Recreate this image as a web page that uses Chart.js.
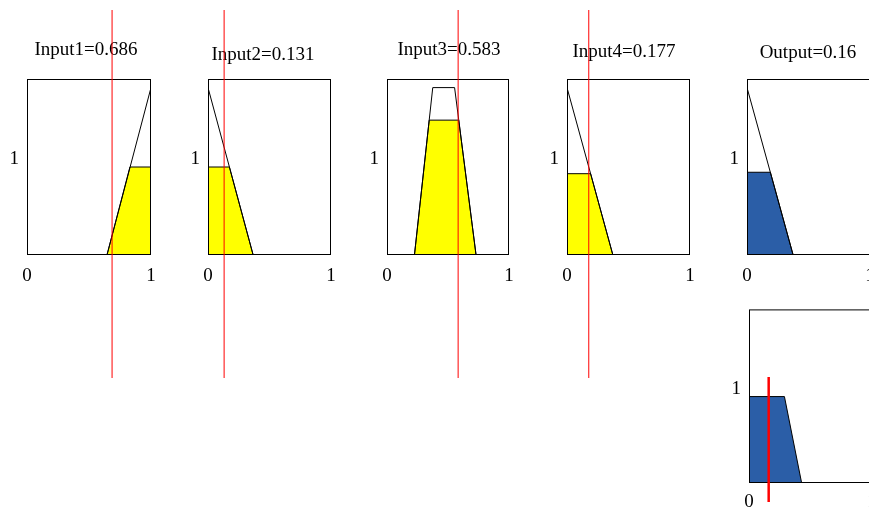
<!DOCTYPE html>
<html>
<head>
<meta charset="utf-8">
<script src="https://cdn.jsdelivr.net/npm/chart.js@4.4.1/dist/chart.umd.min.js"></script>
<style>
  html, body { margin: 0; padding: 0; background: #fff; overflow: hidden; }
  #fig { position: relative; width: 869px; height: 509px; overflow: hidden; background: #fff; }
  .panel { position: absolute; }
</style>
</head>
<body>
<div id="fig"></div>
<script>
// ---- rule inputs and crisp output ----
const inputNames = ['Input1', 'Input2', 'Input3', 'Input4'];
const inputValues = [0.686, 0.131, 0.583, 0.177];
const outputName = 'Output';
const outputValue = 0.16;

// ---- axis ticks ----
const xTickValues = [0, 1];
const yTickValues = [1];
const yMax = 1.84;

// ---- membership functions (outline) ----
const mf1X = [0, 0.645, 1];                       const mf1Y = [0, 0, 1.75];
const mf2X = [0, 0.367, 1];                       const mf2Y = [1.75, 0, 0];
const mf3X = [0, 0.225, 0.375, 0.554, 0.73, 1];   const mf3Y = [0, 0, 1.75, 1.75, 0, 0];
const mf4X = [0, 0.373, 1];                       const mf4Y = [1.75, 0, 0];
const mfOutX = [0, 0.375, 1];                     const mfOutY = [1.75, 0, 0];

// ---- fired (clipped) regions ----
const fire1X = [0.645, 0.83, 1, 1];         const fire1Y = [0, 0.92, 0.92, 0];
const fire2X = [0, 0, 0.174, 0.367];        const fire2Y = [0, 0.92, 0.92, 0];
const fire3X = [0.225, 0.346, 0.588, 0.73]; const fire3Y = [0, 1.41, 1.41, 0];
const fire4X = [0, 0, 0.192, 0.373];        const fire4Y = [0, 0.85, 0.85, 0];
const fireOutX = [0, 0, 0.19, 0.375];       const fireOutY = [0, 0.865, 0.865, 0];

// ---- aggregated output ----
const aggX = [0, 0, 0.288, 0.428];          const aggY = [0, 0.916, 0.916, 0];

const pts = (xs, ys) => xs.map((x, i) => ({ x, y: ys[i] }));

const SERIF = "'Liberation Serif', 'Times New Roman', serif";
const FONT_SIZE = 19;
const Y_AXIS_W = 30, X_AXIS_H = 30, PAD_RIGHT = 24;
const YELLOW = '#ffff00', BLUE = '#2b5ea7', RED = '#ff0000';

// frame around the plot area
const framePlugin = {
  id: 'frame',
  afterDatasetsDraw(chart) {
    const a = chart.chartArea, ctx = chart.ctx;
    ctx.save();
    ctx.strokeStyle = '#000';
    ctx.lineWidth = 1;
    ctx.strokeRect(a.left + 0.5, a.top + 0.5, a.right - a.left - 1, a.bottom - a.top - 1);
    ctx.restore();
  }
};

// panel heading, centred at a given page position
function headingPlugin(text, cx, cy) {
  return {
    id: 'heading',
    afterDraw(chart) {
      if (!text) return;
      const ctx = chart.ctx;
      ctx.save();
      ctx.fillStyle = '#000';
      ctx.font = FONT_SIZE + 'px ' + SERIF;
      ctx.textAlign = 'center';
      ctx.textBaseline = 'middle';
      ctx.fillText(text, cx, cy);
      ctx.restore();
    }
  };
}

// vertical red line at the crisp value; may run past the plot area
function markerPlugin(m) {
  return {
    id: 'marker',
    afterDraw(chart) {
      if (!m) return;
      const ctx = chart.ctx;
      const x = chart.scales.x.getPixelForValue(m.value);
      ctx.save();
      ctx.strokeStyle = m.color;
      ctx.lineWidth = m.width;
      ctx.beginPath();
      ctx.moveTo(x, m.top);
      ctx.lineTo(x, m.bottom);
      ctx.stroke();
      ctx.restore();
    }
  };
}

function makePanel(p) {
  const fig = document.getElementById('fig');
  const div = document.createElement('div');
  div.className = 'panel';
  const w = (p.R - p.L) + Y_AXIS_W + PAD_RIGHT;
  const h = p.canvasH;
  const left = p.L - Y_AXIS_W;
  div.style.left = left + 'px';
  div.style.top = p.canvasTop + 'px';
  div.style.width = w + 'px';
  div.style.height = h + 'px';
  const cv = document.createElement('canvas');
  cv.width = w; cv.height = h;
  cv.style.width = w + 'px'; cv.style.height = h + 'px';
  div.appendChild(cv);
  fig.appendChild(div);

  const tickFont = { family: SERIF, size: FONT_SIZE };
  const marker = p.marker ? Object.assign({}, p.marker, {
    top: p.marker.top - p.canvasTop, bottom: p.marker.bottom - p.canvasTop }) : null;

  new Chart(cv, {
    type: 'scatter',
    data: { datasets: p.datasets },
    options: {
      responsive: false,
      animation: false,
      devicePixelRatio: 1,
      events: [],
      layout: {
        padding: {
          left: 0,
          right: PAD_RIGHT,
          top: p.T - p.canvasTop,
          bottom: p.canvasTop + h - p.B - X_AXIS_H
        }
      },
      plugins: {
        legend: { display: false },
        tooltip: { enabled: false },
        title: { display: false }
      },
      scales: {
        x: {
          type: 'linear', min: 0, max: 1,
          grid: { display: false, drawTicks: false },
          border: { display: false },
          afterBuildTicks: s => { s.ticks = xTickValues.map(v => ({ value: v })); },
          afterFit: s => { s.height = X_AXIS_H; },
          ticks: { color: '#000', font: tickFont, padding: p.tickPad, maxRotation: 0, autoSkip: false,
                   callback: v => String(v) }
        },
        y: {
          type: 'linear', min: 0, max: yMax,
          grid: { display: false, drawTicks: false },
          border: { display: false },
          afterBuildTicks: s => { s.ticks = yTickValues.map(v => ({ value: v })); },
          afterFit: s => { s.width = Y_AXIS_W; },
          ticks: { color: '#000', font: tickFont, padding: 8, autoSkip: false,
                   callback: v => String(v) }
        }
      }
    },
    plugins: [
      framePlugin,
      headingPlugin(p.title, p.titleX - left, p.titleY - p.canvasTop),
      markerPlugin(marker)
    ]
  });
}

function outline(xs, ys) {
  return { data: pts(xs, ys), showLine: true, fill: false, borderColor: '#000',
           borderWidth: 1, pointRadius: 0, tension: 0, order: 0 };
}
function region(xs, ys, color) {
  return { data: pts(xs, ys), showLine: true, fill: 'origin', backgroundColor: color,
           borderColor: '#000', borderWidth: 1, pointRadius: 0, tension: 0, order: 1 };
}

const mfX = [mf1X, mf2X, mf3X, mf4X];
const mfY = [mf1Y, mf2Y, mf3Y, mf4Y];
const fireX = [fire1X, fire2X, fire3X, fire4X];
const fireY = [fire1Y, fire2Y, fire3Y, fire4Y];

// plot frames on the page and heading centres
const inputFrames = [
  { L: 27,  R: 151, titleX: 86,  titleY: 50 },
  { L: 208, R: 331, titleX: 263, titleY: 55 },
  { L: 387, R: 509, titleX: 449, titleY: 50 },
  { L: 567, R: 690, titleX: 624, titleY: 52 }
];

inputNames.forEach((name, i) => {
  const f = inputFrames[i];
  makePanel({
    L: f.L, R: f.R, T: 79, B: 255, canvasTop: 0, canvasH: 400, tickPad: 10,
    title: name + '=' + inputValues[i], titleX: f.titleX, titleY: f.titleY,
    datasets: [outline(mfX[i], mfY[i]), region(fireX[i], fireY[i], YELLOW)],
    marker: { value: inputValues[i], color: RED, width: 1, top: 10, bottom: 378 }
  });
});

makePanel({
  L: 747, R: 870, T: 79, B: 255, canvasTop: 0, canvasH: 300, tickPad: 10,
  title: outputName + '=' + outputValue, titleX: 808, titleY: 53,
  datasets: [outline(mfOutX, mfOutY), region(fireOutX, fireOutY, BLUE)]
});

makePanel({
  L: 749, R: 872, T: 308, B: 483, canvasTop: 290, canvasH: 219, tickPad: 8,
  datasets: [region(aggX, aggY, BLUE)],
  marker: { value: outputValue, color: RED, width: 2.5, top: 377, bottom: 502 }
});
</script>
</body>
</html>
